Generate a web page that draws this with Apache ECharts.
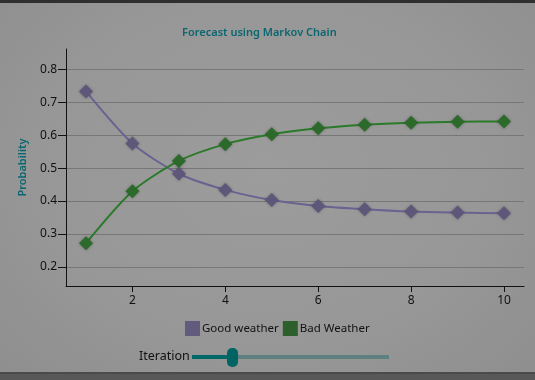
<!DOCTYPE html>
<html><head><meta charset="utf-8">
<script src="https://cdn.jsdelivr.net/npm/echarts@6/dist/echarts.min.js"></script>
<style>
html,body{margin:0;padding:0;width:535px;height:380px;overflow:hidden;}
body{background:radial-gradient(ellipse at 50% 45%, #9c9c9c 0%, #979797 60%, #8e8e8e 100%);position:relative;}
#c{position:absolute;left:0;top:0;width:535px;height:380px;}
#topbar{position:absolute;left:0;top:0;width:535px;height:3px;background:#2f2f2f;}
#botbar{position:absolute;left:0;top:372px;width:535px;height:8px;background:#585858;border-top:2px solid #4a4a4a;box-sizing:border-box;}
</style></head>
<body>
<div id="c"></div>
<div id="topbar"></div>
<div id="botbar"></div>
<script>
const iterations = [1,2,3,4,5,6,7,8,9,10];
const goodWeather = [0.733,0.575,0.483,0.434,0.403,0.385,0.375,0.368,0.365,0.363];
const badWeather  = [0.272,0.430,0.522,0.573,0.603,0.621,0.632,0.638,0.641,0.642];
const xTickLabels = [2,4,6,8,10];
const yTickLabels = [0.2,0.3,0.4,0.5,0.6,0.7,0.8];

const chart = echarts.init(document.getElementById('c'));
const font = '"Noto Sans", "Open Sans", sans-serif';
const good = iterations.map((x,i)=>[x,goodWeather[i]]);
const bad = iterations.map((x,i)=>[x,badWeather[i]]);
chart.setOption({
  animation:false,
  backgroundColor:'transparent',
  textStyle:{fontFamily:font},
  title:{text:'Forecast using Markov Chain',left:177,top:22,
    textStyle:{fontSize:11,fontWeight:600,color:'#0b6670',fontFamily:font}},
  grid:{left:66,right:11,top:49,bottom:94,containLabel:false},
  legend:{bottom:39,left:180,itemWidth:15,itemHeight:15,itemGap:4,icon:'rect',
    textStyle:{fontSize:11.5,color:'#111',fontFamily:font,padding:[0,0,0,-3]},
    data:[{name:'Good weather',itemStyle:{color:'#625b7e'}},{name:'Bad Weather',itemStyle:{color:'#2c5f2c'}}]},
  xAxis:{type:'value',min:0.57,max:10.43,
    axisLine:{show:true,onZero:false,lineStyle:{color:'#111',width:1}},
    axisTick:{show:true,length:6,customValues:xTickLabels,lineStyle:{color:'#111'}},
    axisLabel:{customValues:xTickLabels,color:'#111',fontSize:12,margin:9,fontFamily:font},
    splitLine:{show:false}},
  yAxis:{type:'value',min:0.142,max:0.862,name:'Probability',nameLocation:'middle',nameGap:38,
    nameTextStyle:{fontSize:11,fontWeight:600,color:'#0b6670',fontFamily:font},
    axisLine:{show:true,onZero:false,lineStyle:{color:'#111',width:1}},
    axisTick:{show:true,length:8,customValues:yTickLabels,lineStyle:{color:'#111'}},
    axisLabel:{customValues:yTickLabels,color:'#111',fontSize:12,margin:9,fontFamily:font,formatter:v=>v.toFixed(1)},
    splitLine:{show:true,lineStyle:{color:'#777',width:1}}},
  series:[
    {name:'Good weather',type:'line',data:good,smooth:0.25,symbol:'diamond',symbolSize:14,
      lineStyle:{color:'#6a6290',width:2},itemStyle:{color:'#5e5779',shadowBlur:3,shadowColor:'rgba(0,0,0,0.3)'}},
    {name:'Bad Weather',type:'line',data:bad,smooth:0.25,symbol:'diamond',symbolSize:14,
      lineStyle:{color:'#2a7a2a',width:2},itemStyle:{color:'#2b6a2b',shadowBlur:3,shadowColor:'rgba(0,0,0,0.3)'}}
  ],
  graphic:[
    {type:'text',left:139,top:350,style:{text:'Iteration',fontSize:12.5,fill:'#111',fontFamily:font}},
    {type:'rect',shape:{x:192,y:355,width:197,height:4},style:{fill:'#5f8080'}},
    {type:'rect',shape:{x:192,y:355,width:40,height:4},style:{fill:'#006868'}},
    {type:'rect',shape:{x:227,y:348,width:11,height:19,r:5},style:{fill:'#006464'}}
  ]
});
</script>
</body></html>
